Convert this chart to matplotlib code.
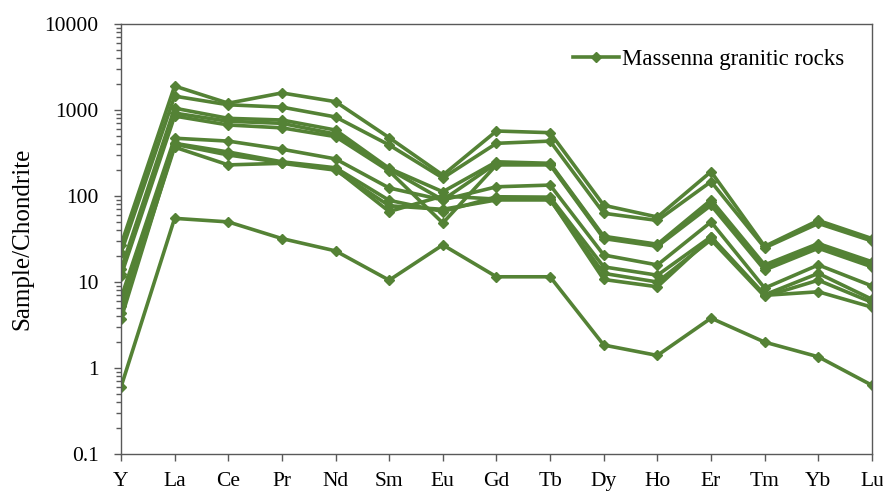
import numpy as np
import matplotlib
matplotlib.use("Agg")
import matplotlib.pyplot as plt
from matplotlib.ticker import LogLocator, FixedLocator, NullFormatter

plt.rcParams["font.family"] = ["Liberation Serif", "DejaVu Serif"]

elements = ["Y", "La", "Ce", "Pr", "Nd", "Sm", "Eu", "Gd", "Tb",
            "Dy", "Ho", "Er", "Tm", "Yb", "Lu"]

# chondrite-normalised values, one list per sample
s1 = [27, 1900, 1200, 1580, 1250, 477, 175, 570, 545, 78, 57, 192, 26, 52, 32]
s2 = [21.7, 1450, 1150, 1080, 830, 392, 162, 410, 435, 63, 52, 147, 25, 48, 30]
s3 = [14, 1050, 800, 765, 585, 210, 112, 250, 240, 34, 27.5, 90, 15.8, 28, 17.2]
s4 = [12.5, 920, 740, 700, 525, 205, 90, 240, 235, 33, 27, 85, 14.5, 27, 16]
s5 = [11.8, 850, 670, 620, 490, 195, 48.5, 230, 230, 32, 26, 78, 13.8, 24.7, 15]
s6 = [6.5, 470, 435, 350, 270, 124, 90, 128, 134, 20.6, 15.8, 50, 8.5, 15.8, 9]
s7 = [5.2, 410, 325, 250, 213, 89, 66, 98, 97, 15, 12, 33.6, 7.1, 12.6, 6.3]
s8 = [4.4, 370, 230, 240, 200, 77, 70, 90, 90, 12.6, 10, 31, 6.8, 10.5, 5.8]
s9 = [3.7, 400, 300, 245, 205, 66, 100, 92, 92, 10.7, 8.8, 33, 7.0, 7.7, 5.1]
s10 = [0.6, 55, 50, 32, 23, 10.5, 27, 11.5, 11.5, 1.85, 1.4, 3.8, 2.0, 1.35, 0.63]

samples = [s1, s2, s3, s4, s5, s6, s7, s8, s9, s10]

green = "#548235"

fig = plt.figure(figsize=(8.83, 4.92), dpi=100)
ax = fig.add_axes([0.137, 0.0772, 0.8505, 0.874])

x = np.arange(len(elements))
for i, s in enumerate(samples):
    ax.plot(x, s, color=green, lw=2.6, marker="D", ms=5,
            label="Massenna granitic rocks" if i == 0 else None)

ax.set_yscale("log")
ax.set_ylim(0.1, 10000)
ax.set_xlim(0, len(elements) - 1)
ax.set_xticks(x)
ax.set_xticklabels(elements)
ax.yaxis.set_major_locator(FixedLocator([0.1, 1, 10, 100, 1000, 10000]))
ax.set_yticklabels(["0.1", "1", "10", "100", "1000", "10000"])
ax.yaxis.set_minor_locator(LogLocator(base=10, subs=np.arange(2, 10)))
ax.yaxis.set_minor_formatter(NullFormatter())

ax.tick_params(axis="both", which="major", labelsize=15.5, length=5,
               width=1, color="#595959", direction="out")
ax.tick_params(axis="y", which="minor", length=3.5, width=1,
               color="#595959", direction="out")
ax.tick_params(axis="x", pad=8)
ax.tick_params(axis="y", pad=11)
for sp in ax.spines.values():
    sp.set_color("#595959")
    sp.set_linewidth(1)

ax.set_ylabel("Sample/Chondrite", fontsize=18, labelpad=8)

leg = ax.legend(loc="upper right", bbox_to_anchor=(0.99, 0.99),
                frameon=False, fontsize=16.5, handlelength=2.0,
                handletextpad=0.1)

fig.savefig("out.png", dpi=100)
